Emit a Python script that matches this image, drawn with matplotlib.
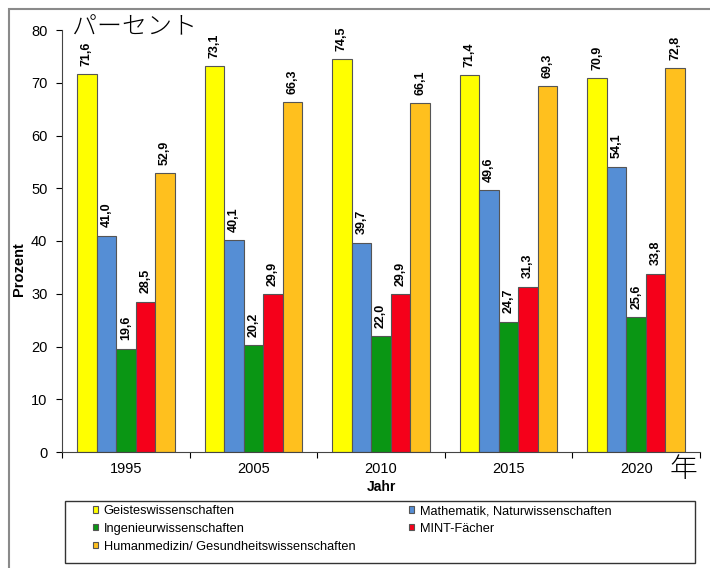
import numpy as np
import matplotlib.pyplot as plt
from matplotlib.patches import Rectangle

plt.rcParams['font.family'] = ['Liberation Sans', 'Noto Sans CJK JP', 'DejaVu Sans']

jahre = ['1995', '2005', '2010', '2015', '2020']
faecher = ['Geisteswissenschaften', 'Mathematik, Naturwissenschaften',
           'Ingenieurwissenschaften', 'MINT-Fächer',
           'Humanmedizin/ Gesundheitswissenschaften']
geistes = [71.6, 73.1, 74.5, 71.4, 70.9]
mathe = [41.0, 40.1, 39.7, 49.6, 54.1]
ingenieur = [19.6, 20.2, 22.0, 24.7, 25.6]
mint = [28.5, 29.9, 29.9, 31.3, 33.8]
medizin = [52.9, 66.3, 66.1, 69.3, 72.8]
farben = ['#FFFF00', '#558ED5', '#0A9614', '#F5001A', '#FFC01E']

reihen = [geistes, mathe, ingenieur, mint, medizin]

W, H = 710, 568
fig = plt.figure(figsize=(W/100, H/100), dpi=100)
ax = fig.add_axes([62/W, 1-452/H, 638/W, 422/H])

x = np.arange(len(jahre))
b = 0.153
balken = []
for i, (werte, farbe, name) in enumerate(zip(reihen, farben, faecher)):
    pos = x + (i - 2) * b
    bc = ax.bar(pos, werte, b, color=farbe, edgecolor='#555555', linewidth=0.8, label=name)
    balken.append(bc)
    for xp, w in zip(pos, werte):
        ax.text(xp, w + 1.6, f'{w:.1f}'.replace('.', ','), rotation=90,
                ha='center', va='bottom', fontsize=9, fontweight='bold')

ax.set_xlim(-0.5, 4.5)
ax.set_ylim(0, 80)
ax.set_yticks(range(0, 81, 10))
ax.tick_params(axis='y', labelsize=10.5, length=4, direction='out', pad=6.5)
ax.set_xticks(np.arange(-0.5, 4.6, 1))
ax.set_xticklabels([])
ax.tick_params(axis='x', length=4, direction='out')
ax.set_xticks(x, minor=True)
ax.set_xticklabels(jahre, minor=True, fontsize=10.5)
ax.tick_params(axis='x', which='minor', length=0, pad=7.5)
for s in ['top', 'right']:
    ax.spines[s].set_visible(False)
ax.spines['left'].set_color('#444444')
ax.spines['bottom'].set_color('#444444')

ax.set_ylabel('Prozent', fontsize=10.5, fontweight='bold')
ax.yaxis.set_label_coords((26-62)/638, (452-269)/422)
fig.text(381/W, 1-487/H, 'Jahr', ha='center', va='center',
         fontsize=10, fontweight='bold')

fig.text(72/W, 1-27/H, 'パーセント', ha='left', va='center', fontsize=18,
         family=['Noto Sans CJK JP'], fontweight='light')
fig.text(683/W, 1-469/H, '年', ha='center', va='center', fontsize=20,
         family=['Noto Sans CJK JP'], fontweight='light')

# Legende ohne eigenen Rahmen, Kasten separat; spaltenweise gefuellt
reihenfolge = [0, 2, 4, 1, 3]
leg = fig.legend([balken[k] for k in reihenfolge], [faecher[k] for k in reihenfolge],
                 ncol=2, loc='upper left', bbox_to_anchor=(93/W, 1-505/H),
                 fontsize=9.2, frameon=False,
                 handlelength=0.4, handleheight=0.4, handletextpad=0.45,
                 borderpad=0, labelspacing=0.45, columnspacing=4.2, borderaxespad=0)
fig.patches.append(Rectangle((65/W, 1-563/H), 630/W, 62/H, transform=fig.transFigure,
                             fill=False, edgecolor='#333333', linewidth=1.0))

fig.patches.append(Rectangle((9/W, -0.1), 1.2, 1-9/H+0.1, transform=fig.transFigure,
                             fill=False, edgecolor='#8a8a8a', linewidth=1.5))

fig.savefig('out.png', dpi=100)
